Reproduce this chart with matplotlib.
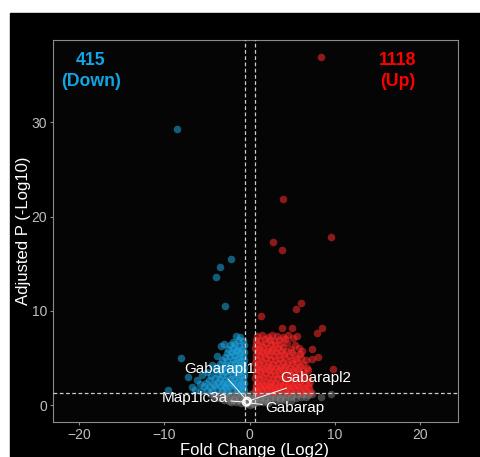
import matplotlib.pyplot as plt
from matplotlib.patches import Rectangle

plt.rcParams['font.family'] = ['Liberation Sans', 'DejaVu Sans']

# thresholds (|log2 FC| > log2(1.5), padj < 0.05)
fc_cut = 0.585
p_cut = 1.301

# up-regulated genes: (log2 fold change, -log10 padj)
up_points = [
    (8.38, 36.9), (3.96, 21.9), (9.52, 17.8), (2.75, 17.3), (3.81, 16.5),
    (6.07, 10.8), (5.42, 10.2), (1.31, 9.5), (8.46, 8.2), (7.87, 7.7),
    (3.77, 8.2), (4.98, 8.2), (5.6, 7.35), (5.14, 7.1), (7.29, 6.0),
    (8.07, 5.15), (7.36, 4.9), (9.75, 3.8),
    (0.9, 7.3), (1.5, 7.4), (2.1, 7.2), (2.6, 7.4), (3.2, 7.3), (3.9, 7.2), (4.5, 7.4),
    (0.7, 6.9), (1.2, 6.8), (1.8, 7.0), (2.4, 6.9), (2.9, 6.8), (3.5, 6.9), (4.2, 7.0),
    (0.8, 6.5), (1.3, 6.4), (1.9, 6.6), (2.5, 6.5), (3.0, 6.4), (3.6, 6.5), (4.4, 6.6), (5.3, 6.4),
    (0.6, 6.1), (1.1, 6.0), (1.6, 6.2), (2.2, 6.1), (2.7, 6.0), (3.3, 6.1), (3.9, 6.2), (4.8, 6.0), (5.8, 6.1),
    (0.9, 5.7), (1.4, 5.6), (2.0, 5.8), (2.5, 5.7), (3.1, 5.6), (3.7, 5.7), (4.3, 5.8), (5.0, 5.6), (6.2, 5.7),
    (0.7, 5.3), (1.2, 5.2), (1.7, 5.4), (2.3, 5.3), (2.9, 5.2), (3.4, 5.3), (4.0, 5.4), (4.6, 5.2), (5.3, 5.3), (5.9, 5.4),
    (0.8, 4.9), (1.3, 4.8), (1.9, 5.0), (2.4, 4.9), (3.0, 4.8), (3.6, 4.9), (4.2, 5.0), (4.8, 4.8), (5.4, 4.9), (6.0, 5.0), (6.6, 4.8),
    (0.6, 4.5), (1.1, 4.4), (1.6, 4.6), (2.2, 4.5), (2.7, 4.4), (3.3, 4.5), (3.9, 4.6), (4.4, 4.4), (5.0, 4.5), (5.6, 4.6), (6.3, 4.4),
    (0.9, 4.1), (1.4, 4.0), (2.0, 4.2), (2.5, 4.1), (3.1, 4.0), (3.6, 4.1), (4.2, 4.2), (4.7, 4.0), (5.3, 4.1), (5.9, 4.2), (6.7, 4.0),
    (0.7, 3.7), (1.2, 3.6), (1.7, 3.8), (2.3, 3.7), (2.8, 3.6), (3.4, 3.7), (3.9, 3.8), (4.5, 3.6), (5.1, 3.7), (5.7, 3.8), (6.3, 3.6), (6.9, 3.7),
    (0.8, 3.3), (1.3, 3.2), (1.9, 3.4), (2.4, 3.3), (3.0, 3.2), (3.5, 3.3), (4.1, 3.4), (4.7, 3.2), (5.2, 3.3), (5.8, 3.4), (6.4, 3.2),
    (0.6, 2.9), (1.1, 2.8), (1.6, 3.0), (2.1, 2.9), (2.7, 2.8), (3.2, 2.9), (3.8, 3.0), (4.3, 2.8), (4.9, 2.9), (5.5, 3.0), (6.1, 2.8), (6.8, 2.9),
    (0.9, 2.5), (1.4, 2.4), (1.9, 2.6), (2.5, 2.5), (3.0, 2.4), (3.6, 2.5), (4.1, 2.6), (4.7, 2.4), (5.3, 2.5), (5.9, 2.6), (6.5, 2.4), (7.1, 2.5),
    (0.7, 2.1), (1.2, 2.0), (1.7, 2.2), (2.3, 2.1), (2.8, 2.0), (3.4, 2.1), (3.9, 2.2), (4.5, 2.0), (5.0, 2.1), (5.6, 2.2), (6.2, 2.0), (6.9, 2.1),
    (0.8, 1.8), (1.3, 1.7), (1.9, 1.8), (2.4, 1.9), (3.0, 1.7), (3.5, 1.8), (4.1, 1.9), (4.6, 1.7), (5.2, 1.8), (5.8, 1.9), (6.4, 1.7), (7.0, 1.8),
    (0.6, 1.5), (1.0, 1.4), (1.5, 1.5), (2.0, 1.6), (2.6, 1.4), (3.1, 1.5), (3.7, 1.6), (4.3, 1.4), (4.8, 1.5), (5.4, 1.6), (6.0, 1.4), (6.6, 1.5), (7.2, 1.4),
]

# down-regulated genes
down_points = [
    (-8.46, 29.3), (-2.17, 15.5), (-3.46, 14.7), (-3.93, 13.6), (-2.84, 10.5),
    (-3.02, 6.5), (-8.1, 5.0), (-7.27, 3.0), (-6.2, 2.7), (-6.7, 1.9), (-9.6, 1.6),
    (-1.1, 7.2), (-1.6, 7.3),
    (-0.8, 6.8), (-1.3, 6.9), (-1.9, 6.7),
    (-0.7, 6.4), (-1.2, 6.3), (-1.7, 6.5), (-2.3, 6.4), (-3.3, 6.3),
    (-0.9, 6.0), (-1.4, 5.9), (-1.9, 6.1), (-2.5, 6.0),
    (-0.7, 5.6), (-1.1, 5.5), (-1.6, 5.7), (-2.1, 5.6), (-2.7, 5.5),
    (-0.8, 5.2), (-1.3, 5.1), (-1.8, 5.3), (-2.3, 5.2), (-2.9, 5.1), (-3.8, 5.2),
    (-0.6, 4.8), (-1.0, 4.7), (-1.5, 4.9), (-2.0, 4.8), (-2.6, 4.7), (-3.2, 4.8),
    (-0.8, 4.4), (-1.2, 4.3), (-1.7, 4.5), (-2.2, 4.4), (-2.8, 4.3), (-3.5, 4.4), (-4.4, 4.3),
    (-0.6, 4.0), (-1.0, 3.9), (-1.5, 4.1), (-2.0, 4.0), (-2.5, 3.9), (-3.1, 4.0), (-3.8, 4.1),
    (-0.8, 3.6), (-1.2, 3.5), (-1.7, 3.7), (-2.3, 3.6), (-2.9, 3.5), (-3.4, 3.6), (-4.1, 3.7), (-5.0, 3.5),
    (-0.6, 3.2), (-1.0, 3.1), (-1.5, 3.3), (-2.0, 3.2), (-2.6, 3.1), (-3.2, 3.2), (-3.7, 3.3), (-4.5, 3.1), (-5.6, 3.2),
    (-0.8, 2.8), (-1.3, 2.7), (-1.8, 2.9), (-2.3, 2.8), (-2.9, 2.7), (-3.5, 2.8), (-4.0, 2.9), (-4.8, 2.7),
    (-0.6, 2.4), (-1.0, 2.3), (-1.5, 2.5), (-2.1, 2.4), (-2.6, 2.3), (-3.1, 2.4), (-3.7, 2.5), (-4.3, 2.3), (-5.1, 2.4), (-5.8, 2.3),
    (-0.8, 2.0), (-1.3, 1.9), (-1.8, 2.1), (-2.4, 2.0), (-2.9, 1.9), (-3.4, 2.0), (-4.0, 2.1), (-4.6, 1.9), (-5.4, 2.0),
    (-0.6, 1.6), (-1.0, 1.5), (-1.5, 1.7), (-2.1, 1.6), (-2.6, 1.5), (-3.2, 1.6), (-3.8, 1.7), (-4.4, 1.5), (-5.0, 1.6), (-5.7, 1.5), (-6.4, 1.6),
]

# not significant
ns_points = [
    (8.38, 0.9), (9.5, 1.15),
    (-4.6, 1.15), (-4.0, 1.1), (-3.4, 1.2), (-2.8, 1.15), (-2.2, 1.1), (-1.6, 1.2), (-1.0, 1.15),
    (-0.4, 1.1), (0.2, 1.2), (0.8, 1.15), (1.4, 1.1), (2.0, 1.2), (2.6, 1.15), (3.2, 1.1),
    (3.8, 1.2), (4.4, 1.15), (5.0, 1.1), (5.6, 1.2), (6.2, 1.15), (6.8, 1.1), (7.3, 1.2),
    (-4.2, 0.85), (-3.6, 0.8), (-3.0, 0.9), (-2.4, 0.85), (-1.8, 0.8), (-1.2, 0.9), (-0.6, 0.85),
    (0.0, 0.8), (0.6, 0.9), (1.2, 0.85), (1.8, 0.8), (2.4, 0.9), (3.0, 0.85), (3.6, 0.8),
    (4.2, 0.9), (4.8, 0.85), (5.4, 0.8), (6.0, 0.9), (6.6, 0.85),
    (-3.0, 0.55), (-2.4, 0.5), (-1.8, 0.6), (-1.2, 0.55), (-0.6, 0.5), (0.0, 0.6), (0.6, 0.55),
    (1.2, 0.5), (1.8, 0.6), (2.4, 0.55), (3.0, 0.5), (3.6, 0.6), (4.2, 0.55), (4.8, 0.5),
    (-2.2, 0.3), (-1.6, 0.3), (-1.0, 0.25), (-0.5, 0.3), (0.0, 0.3), (0.5, 0.25), (1.0, 0.3), (1.6, 0.3), (2.2, 0.25),
    (-0.4, 0.1), (0.0, 0.05), (0.4, 0.1),
]

# highlighted autophagy genes
label_genes = ["Map1lc3a", "Gabarapl1", "Gabarapl2", "Gabarap"]
label_fc = [-0.42, -0.3, -0.22, -0.35]
label_p = [0.33, 0.48, 0.42, 0.28]
label_text_x = [-6.4, -3.5, 7.7, 5.3]
label_text_y = [0.74, 3.8, 2.86, -0.32]

n_down = 415
n_up = 1118

W, H = 481, 457
fig = plt.figure(figsize=(W / 100, H / 100), dpi=100)
fig.patch.set_facecolor("white")
fig.patches.append(Rectangle((10 / W, 0), 1 - 10 / W, 1 - 13 / H,
                             transform=fig.transFigure, color="black", zorder=-1))

ax = fig.add_axes([53 / W, 1 - 422 / H, 404.7 / W, 382 / H])
ax.set_facecolor("#050505")

dot = 30
ax.scatter([p[0] for p in ns_points], [p[1] for p in ns_points],
           s=dot, color="#808080", alpha=0.5, linewidths=0, zorder=2)
ax.scatter([p[0] for p in down_points], [p[1] for p in down_points],
           s=dot, color="#1ea5e0", alpha=0.55, linewidths=0, zorder=2)
ax.scatter([p[0] for p in up_points], [p[1] for p in up_points],
           s=dot, color="#ff2a2a", alpha=0.55, linewidths=0, zorder=2)

ax.axvline(-fc_cut, color="#cccccc", lw=0.9, ls=(0, (3, 2)), zorder=3)
ax.axvline(fc_cut, color="#cccccc", lw=0.9, ls=(0, (3, 2)), zorder=3)
ax.axhline(p_cut, color="#cccccc", lw=0.9, ls=(0, (3, 2)), zorder=3)

ax.scatter(label_fc, label_p, s=26, facecolors="none", edgecolors="white",
           linewidths=0.8, zorder=4)
for g, x, y, tx, ty in zip(label_genes, label_fc, label_p, label_text_x, label_text_y):
    ax.annotate(g, xy=(x, y), xytext=(tx, ty), color="white", fontsize=11,
                ha="center", va="center", zorder=5,
                arrowprops=dict(arrowstyle="-", color="white", lw=0.7,
                                shrinkA=0, shrinkB=2))

ax.text(-18.6, 35.4, f"{n_down}\n(Down)", color="#12a4e3", fontsize=12.7,
        fontweight="bold", ha="center", va="center", linespacing=1.3)
ax.text(17.35, 35.4, f"{n_up}\n(Up)", color="#ff0000", fontsize=12.7,
        fontweight="bold", ha="center", va="center", linespacing=1.3)

ax.set_xlim(-23.05, 24.4)
ax.set_ylim(-1.77, 38.7)
ax.set_xticks([-20, -10, 0, 10, 20])
ax.set_yticks([0, 10, 20, 30])
ax.tick_params(colors="#8c8c8c", labelcolor="#bfbfbf", labelsize=10,
               length=2.2, width=0.8, pad=2)
for sp in ax.spines.values():
    sp.set_color("#8c8c8c")
    sp.set_linewidth(0.8)

fig.text(254.5 / W, 1 - 450 / H, "Fold Change (Log2)", color="white",
         fontsize=12, ha="center", va="center")
fig.text(23.5 / W, 1 - 231 / H, "Adjusted P (-Log10)", color="white",
         fontsize=12, ha="center", va="center", rotation=90)

fig.savefig("out.png", dpi=100)
